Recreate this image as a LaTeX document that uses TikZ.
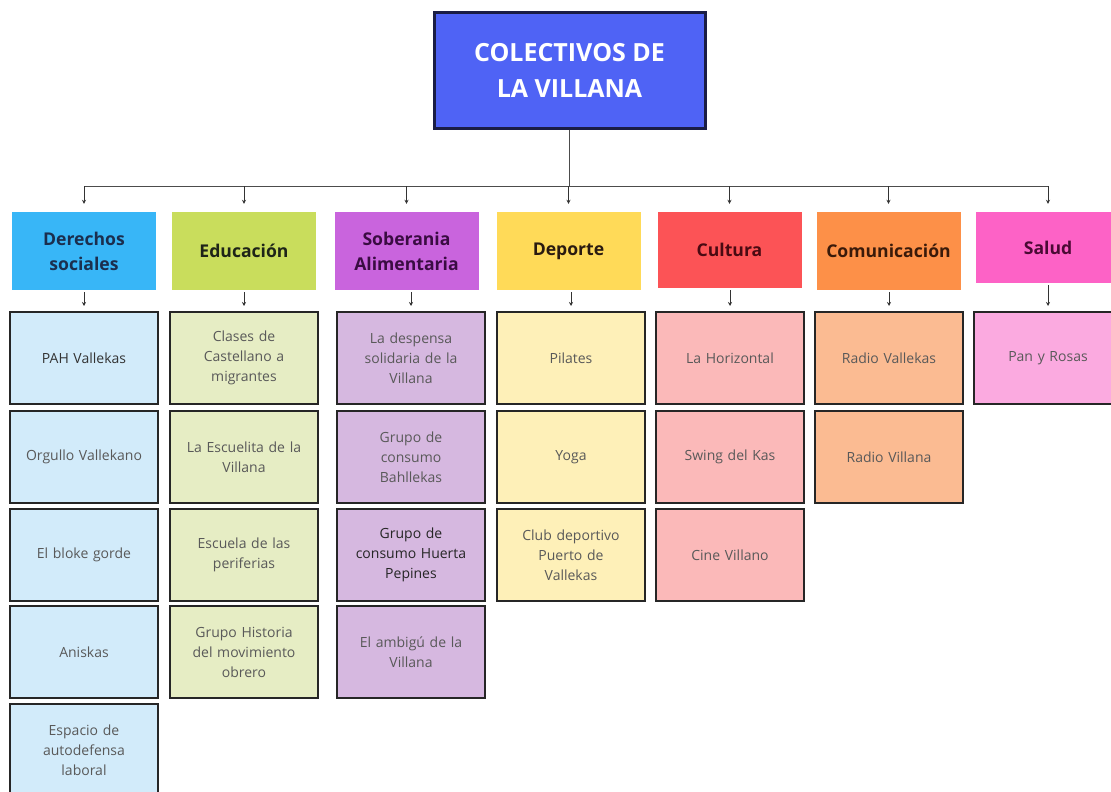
\documentclass[tikz,border=0pt]{standalone}
\usepackage{fontspec}
\setmainfont{Open Sans}
\usetikzlibrary{arrows.meta}

\definecolor{titlefill}{HTML}{4F63F5}
\definecolor{titleline}{HTML}{1A1D45}
% header / item / text colours per column
\definecolor{dsH}{HTML}{38B6F7}\definecolor{dsC}{HTML}{D2EBFA}\definecolor{dsT}{HTML}{1B2E4E}
\definecolor{edH}{HTML}{C9DD5C}\definecolor{edC}{HTML}{E6EDC4}\definecolor{edT}{HTML}{1E2418}
\definecolor{soH}{HTML}{C964DD}\definecolor{soC}{HTML}{D6B8E0}\definecolor{soT}{HTML}{3A0C42}
\definecolor{deH}{HTML}{FFDA58}\definecolor{deC}{HTML}{FEF0B8}\definecolor{deT}{HTML}{2A1A10}
\definecolor{cuH}{HTML}{FC5356}\definecolor{cuC}{HTML}{FBB9B9}\definecolor{cuT}{HTML}{4A0A12}
\definecolor{coH}{HTML}{FD9048}\definecolor{coC}{HTML}{FBBB92}\definecolor{coT}{HTML}{3A1A0A}
\definecolor{saH}{HTML}{FD62C6}\definecolor{saC}{HTML}{FBAAE0}\definecolor{saT}{HTML}{4A0A34}

\begin{document}
\begin{tikzpicture}[x=1pt,y=-1pt,
  head/.style={minimum width=144pt, minimum height=78pt, inner sep=0pt, align=center,
    font=\bfseries\fontsize{17.6}{25}\selectfont},
  item/.style={draw=black!85, line width=2pt, minimum width=148pt, minimum height=92pt,
    inner sep=0pt, align=center, text width=130pt, font=\fontsize{14}{20}\selectfont},
  link/.style={-{Stealth[length=4pt,width=4pt]}, line width=0.9pt, black!80}]
  \useasboundingbox (0,0) rectangle (1111,792);

  \node[draw=titleline, line width=3pt, fill=titlefill, minimum width=271pt, minimum height=115pt,
    text=white, align=center, font=\bfseries\fontsize{25}{36}\selectfont] (title) at (569.5,70.5)
    {COLECTIVOS DE\\LA VILLANA};

  % headers
  \node[head, fill=dsH, text=dsT] (h1) at (84,251) {Derechos\\sociales};
  \node[head, fill=edH, text=edT] (h2) at (244,251) {Educación};
  \node[head, fill=soH, text=soT] (h3) at (406.5,251) {Soberania\\Alimentaria};
  \node[head, fill=deH, text=deT] (h4) at (568.5,251) {Deporte};
  \node[head, fill=cuH, text=cuT, minimum height=76pt] (h5) at (729.5,250) {Cultura};
  \node[head, fill=coH, text=coT] (h6) at (888.5,251) {Comunicación};
  \node[head, fill=saH, text=saT, minimum height=71pt] (h7) at (1048,247.5) {Salud};

  % Derechos sociales
  \node[item, fill=dsC, text=black!80] (d1) at (84,358) {PAH Vallekas};
  \node[item, fill=dsC, text=black!65] (d2) at (84,457) {Orgullo Vallekano};
  \node[item, fill=dsC, text=black!65] (d3) at (84,555) {El bloke gorde};
  \node[item, fill=dsC, text=black!65] (d4) at (84,652) {Aniskas};
  \node[item, fill=dsC, text=black!65] (d5) at (84,750) {Espacio de\\autodefensa\\laboral};

  % Educacion
  \node[item, fill=edC, text=black!65] (e1) at (244,358) {Clases de\\Castellano a\\migrantes};
  \node[item, fill=edC, text=black!65] (e2) at (244,457) {La Escuelita de la\\Villana};
  \node[item, fill=edC, text=black!65] (e3) at (244,555) {Escuela de las\\periferias};
  \node[item, fill=edC, text=black!65] (e4) at (244,652) {Grupo Historia\\del movimiento\\obrero};

  % Soberania alimentaria
  \node[item, fill=soC, text=black!65] (s1) at (411,358) {La despensa\\solidaria de la\\Villana};
  \node[item, fill=soC, text=black!65] (s2) at (411,457) {Grupo de\\consumo\\Bahllekas};
  \node[item, fill=soC, text=black!85] (s3) at (411,555) {Grupo de\\consumo Huerta\\Pepines};
  \node[item, fill=soC, text=black!65] (s4) at (411,652) {El ambigú de la\\Villana};

  % Deporte
  \node[item, fill=deC, text=black!65] (p1) at (571,358) {Pilates};
  \node[item, fill=deC, text=black!65] (p2) at (571,457) {Yoga};
  \node[item, fill=deC, text=black!65] (p3) at (571,555) {Club deportivo\\Puerto de\\Vallekas};

  % Cultura
  \node[item, fill=cuC, text=black!65] (k1) at (730,358) {La Horizontal};
  \node[item, fill=cuC, text=black!65] (k2) at (730,457) {Swing del Kas};
  \node[item, fill=cuC, text=black!65] (k3) at (730,555) {Cine Villano};

  % Comunicacion
  \node[item, fill=coC, text=black!65] (r1) at (889,358) {Radio Vallekas};
  \node[item, fill=coC, text=black!65] (r2) at (889,457) {Radio Villana};

  % Salud
  \node[item, fill=saC, text=black!65] (z1) at (1048,358) {Pan y Rosas};

  % connectors
  \coordinate (bus) at (0,186);
  \draw[line width=0.9pt, black!70] (title.south) -- (title.south |- bus);
  \draw[line width=0.9pt, black!70] (h1.north |- bus) -- (h7.north |- bus);
  \foreach \h in {h1,h2,h3,h4,h5,h6,h7}
    \draw[link, shorten >=8pt] (\h.north |- bus) -- (\h.north);
  \foreach \h/\c in {h1/d1,h2/e1,h3/s1,h4/p1,h5/k1,h6/r1,h7/z1}
    \draw[link, shorten <=2pt, shorten >=5pt] (\h.south -| \c.north) -- (\c.north);
\end{tikzpicture}
\end{document}
